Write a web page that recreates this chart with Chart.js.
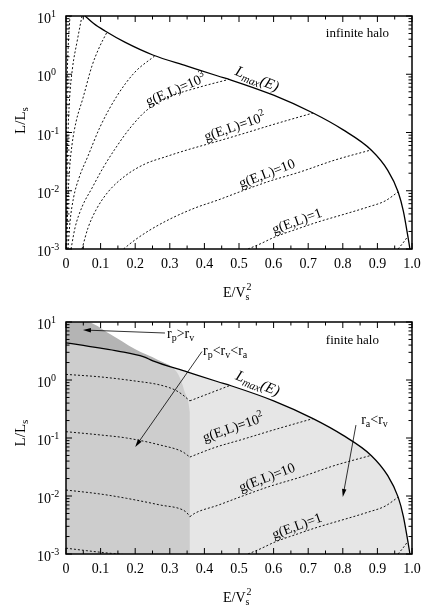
<!DOCTYPE html>
<html>
<head>
<meta charset="utf-8">
<script src="https://cdn.jsdelivr.net/npm/chart.js@4/dist/chart.umd.min.js"></script>
<style>
  html, body { margin: 0; padding: 0; background: #fff; }
  canvas { display: block; }
</style>
</head>
<body>
<canvas id="infinite" width="436" height="305"></canvas>
<canvas id="finite" width="436" height="305"></canvas>
<script>
const SERIF = '"Liberation Serif", "Times New Roman", serif';

// axis ticks
const xTicks = [0, 0.1, 0.2, 0.3, 0.4, 0.5, 0.6, 0.7, 0.8, 0.9, 1];
const yTicks = [0.001, 0.01, 0.1, 1, 10];

// infinite halo: [E/Vs^2, L/Ls]
const lmaxInf = [[0.055,10],[0.08,7.41],[0.113,5.52],[0.17,3.55],[0.251,2.14],[0.35,1.38],[0.439,0.933],[0.477,0.796],[0.6,0.437],[0.714,0.216],[0.8,0.112],[0.882,0.0501],[0.93,0.0224],[0.96,0.00955],[0.975,0.00447],[0.988,0.00166],[0.994,0.001]];
const gInf1e7 = [[0.0006,0.001],[0.0012,0.0501],[0.0029,0.537],[0.0066,3.18],[0.0116,10]];
const gInf1e6 = [[0.0012,0.001],[0.0023,0.0103],[0.0052,0.0743],[0.0101,0.361],[0.0188,1.28],[0.0318,3.58],[0.0462,10]];
const gInf1e5 = [[0.0023,0.001],[0.0052,0.00569],[0.0101,0.0227],[0.0173,0.061],[0.0289,0.151],[0.0491,0.391],[0.0751,1.39],[0.0954,2.82],[0.1185,5.3]];
const gInf1e4 = [[0.0058,0.001],[0.0116,0.00291],[0.0217,0.00752],[0.0376,0.0166],[0.0636,0.0395],[0.0983,0.124],[0.1474,0.424],[0.1994,1.09],[0.2572,2.08]];
const gInf1e3 = [[0.0145,0.001],[0.026,0.0023],[0.0462,0.00526],[0.0751,0.0111],[0.1069,0.0246],[0.1416,0.0521],[0.185,0.119],[0.2341,0.243],[0.3064,0.424],[0.3873,0.604],[0.4711,0.817]];
const gInf1e2 = [[0.0462,0.001],[0.0636,0.0023],[0.0867,0.00468],[0.1214,0.00952],[0.1705,0.0179],[0.2283,0.0288],[0.2861,0.038],[0.3497,0.0501],[0.4306,0.0687],[0.5087,0.0942],[0.604,0.14],[0.7139,0.216]];
const gInf1e1 = [[0.1662,0.001],[0.1994,0.00143],[0.2428,0.00212],[0.3006,0.00327],[0.3728,0.00506],[0.4393,0.00693],[0.5087,0.00991],[0.5896,0.0147],[0.6763,0.021],[0.7775,0.0337],[0.8815,0.0501]];
const gInf1e0 = [[0.526,0.001],[0.5607,0.00122],[0.604,0.00161],[0.6676,0.0022],[0.7283,0.00291],[0.8064,0.00399],[0.8728,0.00526],[0.922,0.00667],[0.9595,0.0095]];
const gInf1em1 = [[0.9595,0.001],[0.974,0.00127],[0.9884,0.00166]];

// finite halo
const lmaxFin = [[0,4.37],[0.05,3.94],[0.1,3.55],[0.15,3.16],[0.225,2.51],[0.251,2.14],[0.35,1.38],[0.439,0.933],[0.477,0.796],[0.6,0.437],[0.714,0.216],[0.8,0.112],[0.882,0.0501],[0.93,0.0224],[0.96,0.00955],[0.975,0.00447],[0.988,0.00166],[0.994,0.001]];
const rpEqRv = [[0,10],[0.058,10],[0.127,6.2],[0.199,3.42],[0.266,2.21],[0.318,1.43],[0.332,1.0],[0.344,0.6],[0.353,0.435],[0.358,0.28]];
const gFin1e3L = [[0,1.25],[0.1,1.13],[0.2,0.96],[0.272,0.82],[0.315,0.673],[0.338,0.551],[0.35,0.479],[0.358,0.437]];
const gFin1e3R = [[0.358,0.437],[0.41,0.575],[0.474,0.805]];
const gFin1e2L = [[0,0.1285],[0.1,0.1127],[0.175,0.1],[0.272,0.0757],[0.338,0.0574],[0.35,0.0509],[0.358,0.047]];
const gFin1e2R = [[0.358,0.047],[0.4306,0.0687],[0.5087,0.0942],[0.604,0.14],[0.7139,0.216]];
const gFin1e1L = [[0,0.01268],[0.1,0.0108],[0.175,0.00912],[0.272,0.007],[0.338,0.00574],[0.35,0.00509],[0.358,0.0044]];
const gFin1e1R = [[0.358,0.0044],[0.3728,0.00506],[0.4393,0.00693],[0.5087,0.00991],[0.5896,0.0147],[0.6763,0.021],[0.7775,0.0337],[0.8815,0.0501]];
const gFin1e0L = [[0,0.00126],[0.06,0.00114],[0.12,0.00104],[0.19,0.00095]];

// r_p < r_v < r_a region: under Lmax, left of the r_p = r_v boundary
const crossingMid = lmaxFin.filter(p => p[0] <= 0.251).concat(rpEqRv.filter(p => p[0] >= 0.318));

const pts = arr => arr.map(([x, y]) => ({ x, y }));

function dotted(arr) {
  return { data: pts(arr), borderColor: '#111', borderWidth: 1, borderDash: [2, 2], pointRadius: 0,
           fill: false, cubicInterpolationMode: 'monotone', order: 2 };
}
function solid(arr) {
  return { data: pts(arr), borderColor: '#000', borderWidth: 1.3, pointRadius: 0,
           fill: false, cubicInterpolationMode: 'monotone', order: 1 };
}
function shade(arr, color, order) {
  return { data: pts(arr), borderWidth: 0, borderColor: 'rgba(0,0,0,0)', backgroundColor: color,
           pointRadius: 0, fill: 'start', cubicInterpolationMode: 'monotone', order };
}

function drawParts(ctx, parts, x, y) {
  let cx = x;
  parts.forEach(([t, size, dy, it]) => {
    ctx.font = (it ? 'italic ' : '') + size + 'px ' + SERIF;
    ctx.fillText(t, cx, y + dy);
    cx += ctx.measureText(t).width;
  });
  return cx - x;
}
function partsWidth(ctx, parts) {
  let w = 0;
  parts.forEach(([t, size, dy, it]) => {
    ctx.font = (it ? 'italic ' : '') + size + 'px ' + SERIF;
    w += ctx.measureText(t).width;
  });
  return w;
}
function arrow(ctx, x1, y1, x2, y2) {
  const a = Math.atan2(y2 - y1, x2 - x1), L = 8, W = 2.2;
  ctx.beginPath();
  ctx.moveTo(x1, y1);
  ctx.lineTo(x2 - Math.cos(a) * L * 0.7, y2 - Math.sin(a) * L * 0.7);
  ctx.stroke();
  ctx.beginPath();
  ctx.moveTo(x2, y2);
  ctx.lineTo(x2 - L * Math.cos(a) + W * Math.sin(a), y2 - L * Math.sin(a) - W * Math.cos(a));
  ctx.lineTo(x2 - L * Math.cos(a) - W * Math.sin(a), y2 - L * Math.sin(a) + W * Math.cos(a));
  ctx.closePath();
  ctx.fill();
}

function decor(notes, arrows, yTitleShift) {
  return {
    id: 'decor',
    afterDatasetsDraw(chart) {
      const { ctx, chartArea: a, scales: { x, y } } = chart;
      ctx.save();
      ctx.strokeStyle = '#000';
      ctx.fillStyle = '#000';

      // inward ticks, mirrored
      ctx.lineWidth = 1;
      ctx.beginPath();
      x.ticks.forEach(t => {
        const px = x.getPixelForValue(t.value);
        ctx.moveTo(px, a.bottom); ctx.lineTo(px, a.bottom - 6);
        ctx.moveTo(px, a.top); ctx.lineTo(px, a.top + 6);
        if (t.value < 1) {
          const pm = x.getPixelForValue(t.value + 0.05);
          ctx.moveTo(pm, a.bottom); ctx.lineTo(pm, a.bottom - 3.5);
          ctx.moveTo(pm, a.top); ctx.lineTo(pm, a.top + 3.5);
        }
      });
      y.ticks.forEach(t => {
        const py = y.getPixelForValue(t.value);
        ctx.moveTo(a.left, py); ctx.lineTo(a.left + 6, py);
        ctx.moveTo(a.right, py); ctx.lineTo(a.right - 6, py);
        if (t.value < 10) {
          for (let k = 2; k <= 9; k++) {
            const pm = y.getPixelForValue(t.value * k);
            ctx.moveTo(a.left, pm); ctx.lineTo(a.left + 3.5, pm);
            ctx.moveTo(a.right, pm); ctx.lineTo(a.right - 3.5, pm);
          }
        }
      });
      ctx.stroke();

      // frame
      ctx.lineWidth = 1.5;
      ctx.strokeRect(a.left, a.top, a.right - a.left, a.bottom - a.top);

      // y tick labels 10^n
      ctx.textAlign = 'left';
      ctx.textBaseline = 'alphabetic';
      y.ticks.forEach(t => {
        const py = y.getPixelForValue(t.value);
        const n = Math.round(Math.log10(t.value));
        drawParts(ctx, [['10', 14, 0], [String(n), 10, -6]], a.left - 29, py + 7);
      });

      // axis titles
      drawParts(ctx, [['E/V', 14, 0], ['s', 10, 3]], 223, 297);
      drawParts(ctx, [['2', 10, -7]], 223 + partsWidth(ctx, [['E/V', 14, 0]]) + 1, 297);
      const yParts = [['L/L', 15, 0], ['s', 11, 3]];
      ctx.save();
      ctx.translate(25, (a.top + a.bottom) / 2 + yTitleShift);
      ctx.rotate(-Math.PI / 2);
      drawParts(ctx, yParts, -partsWidth(ctx, yParts) / 2, 0);
      ctx.restore();

      // curve labels
      notes.forEach(n => {
        ctx.save();
        ctx.translate(x.getPixelForValue(n.at[0]), y.getPixelForValue(n.at[1]));
        ctx.rotate(n.angle * Math.PI / 180);
        drawParts(ctx, n.parts, 0, 0);
        ctx.restore();
      });

      // arrows
      ctx.lineWidth = 0.8;
      arrows.forEach(([p, q]) => {
        arrow(ctx, x.getPixelForValue(p[0]), y.getPixelForValue(p[1]),
                   x.getPixelForValue(q[0]), y.getPixelForValue(q[1]));
      });
      ctx.restore();
    }
  };
}

const lmaxLabel = [['L', 15, 0, 1], ['max', 11, 3, 1], ['(E)', 15, 0, 1]];

const topNotes = [
  { at: [0.237, 0.285], angle: -23, parts: [['g(E,L)=10', 14, 0], ['3', 10, -6]] },
  { at: [0.4046, 0.0714], angle: -19, parts: [['g(E,L)=10', 14, 0], ['2', 10, -6]] },
  { at: [0.5058, 0.0111], angle: -21, parts: [['g(E,L)=10', 14, 0]] },
  { at: [0.6012, 0.00181], angle: -20, parts: [['g(E,L)=1', 14, 0]] },
  { at: [0.486, 0.99], angle: 22, parts: lmaxLabel },
  { at: [0.751, 4.36], angle: 0, parts: [['infinite halo', 13, 0]] }
];
const bottomNotes = [
  { at: [0.40, 0.0853], angle: -19, parts: [['g(E,L)=10', 14, 0], ['2', 10, -6]] },
  { at: [0.5058, 0.0117], angle: -21, parts: [['g(E,L)=10', 14, 0]] },
  { at: [0.6012, 0.00182], angle: -20, parts: [['g(E,L)=1', 14, 0]] },
  { at: [0.488, 1.04], angle: 22, parts: lmaxLabel },
  { at: [0.751, 4.17], angle: 0, parts: [['finite halo', 13, 0]] },
  { at: [0.292, 5.2], angle: 0, parts: [['r', 14, 0], ['p', 10, 3], ['>', 14, 0], ['r', 14, 0], ['v', 10, 3]] },
  { at: [0.396, 2.7], angle: 0, parts: [['r', 14, 0], ['p', 10, 3], ['<', 14, 0], ['r', 14, 0], ['v', 10, 3], ['<', 14, 0], ['r', 14, 0], ['a', 10, 3]] },
  { at: [0.853, 0.174], angle: 0, parts: [['r', 14, 0], ['a', 10, 3], ['<', 14, 0], ['r', 14, 0], ['v', 10, 3]] }
];
const bottomArrows = [
  [[0.286, 6.46], [0.049, 7.28]],
  [[0.393, 3.1], [0.2, 0.07]],
  [[0.838, 0.167], [0.80, 0.0096]]
];

function makeChart(id, datasets, padTop, plugin) {
  return new Chart(document.getElementById(id), {
    type: 'line',
    data: { datasets },
    options: {
      responsive: false,
      animation: false,
      devicePixelRatio: 1,
      layout: { padding: { top: padTop, right: 24, left: 0, bottom: 0 } },
      plugins: { legend: { display: false }, tooltip: { enabled: false } },
      scales: {
        x: {
          type: 'linear', min: 0, max: 1,
          grid: { display: false, drawTicks: false },
          border: { display: false },
          ticks: { padding: 7, color: '#000', maxRotation: 0, autoSkip: false,
                   font: { family: SERIF, size: 14 } },
          afterBuildTicks: s => { s.ticks = xTicks.map(v => ({ value: v })); },
          afterFit: s => { s.height = 56; }
        },
        y: {
          type: 'logarithmic', min: 0.001, max: 10,
          grid: { display: false },
          border: { display: false },
          ticks: { display: false },
          afterBuildTicks: s => { s.ticks = yTicks.map(v => ({ value: v })); },
          afterFit: s => { s.width = 66; }
        }
      }
    },
    plugins: [plugin]
  });
}

makeChart('infinite', [
  solid(lmaxInf),
  dotted(gInf1e7), dotted(gInf1e6), dotted(gInf1e5), dotted(gInf1e4), dotted(gInf1e3),
  dotted(gInf1e2), dotted(gInf1e1), dotted(gInf1e0), dotted(gInf1em1)
], 16, decor(topNotes, [], -12));

makeChart('finite', [
  shade(rpEqRv, '#b4b4b4', 10),
  shade(lmaxFin, '#e6e6e6', 9),
  shade(crossingMid, '#cdcdcd', 8),
  solid(lmaxFin),
  dotted(gFin1e3L), dotted(gFin1e3R), dotted(gFin1e2L), dotted(gFin1e2R),
  dotted(gFin1e1L), dotted(gFin1e1R), dotted(gFin1e0L), dotted(gInf1e0), dotted(gInf1em1)
], 17, decor(bottomNotes, bottomArrows, -5));
</script>
</body>
</html>
